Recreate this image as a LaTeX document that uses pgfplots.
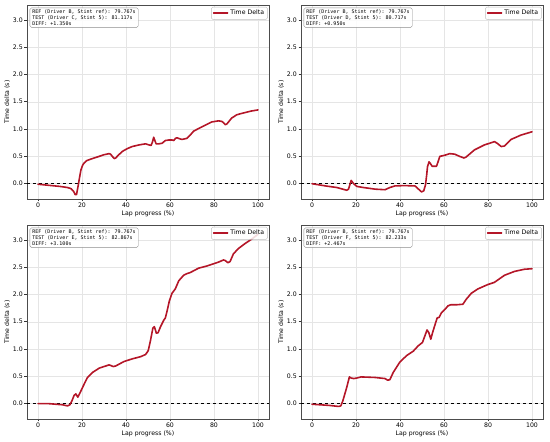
\documentclass[border=0pt]{standalone}
\usepackage{fontspec}
\setmainfont{DejaVu Sans}
\newfontfamily\monofont{DejaVu Sans Mono}
\usepackage{pgfplots}
\pgfplotsset{compat=1.18}
\definecolor{deltared}{RGB}{180,22,40}
\pgfplotsset{
  panel/.style={
    scale only axis, width=242pt, height=194pt,
    anchor=south west,
    xmin=-5, xmax=105, ymin=-0.28, ymax=3.27,
    xtick={0,20,40,60,80,100}, ytick={0,0.5,1,1.5,2,2.5,3},
    /pgf/number format/assume math mode=true,
    yticklabel style={/pgf/number format/fixed, /pgf/number format/fixed zerofill, /pgf/number format/precision=1},
    grid=major, grid style={black!10, line width=0.4pt},
    tick align=outside, tick pos=left, major tick length=2.5pt,
    axis line style={black!70, line width=0.6pt},
    tick style={black!80, line width=0.5pt},
    ticklabel style={font=\fontsize{6.2}{7}\selectfont, inner sep=1.5pt},
    label style={font=\fontsize{6.2}{7}\selectfont},
    xlabel={Lap progress (\%)}, ylabel={Time delta (s)},
    xlabel style={yshift=2pt},
    ylabel style={yshift=-2pt},
    legend style={at={(0.995,0.99)}, anchor=north east, font=\fontsize{6.2}{7}\selectfont,
      draw=black!25, rounded corners=1.5pt, fill=white, fill opacity=0.85, text opacity=1,
      inner xsep=1.5pt, inner ysep=1pt},
    legend cell align=left,
    legend image code/.code={\draw[#1] (0pt,0pt) -- (14pt,0pt);},
  },
  curve/.style={deltared, line width=1.6pt, line join=round, line cap=round},
  zero/.style={black, dashed, line width=0.6pt, forget plot},
}
\newcommand{\infobox}[2]{%
  \node[anchor=north west, draw=black!45, rounded corners=1.5pt, fill=white, fill opacity=0.85, text opacity=1,
    font=\monofont\fontsize{5}{5.8}\selectfont, align=left, inner xsep=2.5pt, inner ysep=2pt]
    at (rel axis cs:0,1) [xshift=2.7pt, yshift=-2.7pt]
    {REF (Driver B, Stint ref): 79.767s\\#1\\#2};}
\begin{document}
\begin{tikzpicture}
\useasboundingbox (0,0) rectangle (550pt,442pt);
% Top-left
\begin{axis}[panel, at={(27pt,243pt)}]
\addplot[zero] coordinates {(-5,0) (105,0)};
\addplot[curve] coordinates {
(0,-0.01) (5,-0.03) (10,-0.05) (13.4,-0.07) (15,-0.09) (16.2,-0.14) (16.9,-0.2) (17.5,-0.2)
(18.2,-0.05) (18.7,0.07) (19.5,0.25) (20.3,0.34) (21,0.38) (22,0.42) (24,0.45) (27.8,0.5)
(30,0.53) (32.3,0.55) (33,0.54) (34,0.49) (34.7,0.46) (35.3,0.47) (36.5,0.52) (38.3,0.59)
(40.5,0.64) (42.8,0.68) (46,0.71) (48.9,0.73) (50.4,0.71) (51.4,0.70) (52,0.76) (52.6,0.85)
(53.2,0.78) (53.7,0.73) (55,0.73) (56.4,0.74) (57.9,0.79) (59.5,0.8) (60.9,0.8) (61.7,0.79)
(62.5,0.83) (63.2,0.84) (64.5,0.82) (65.5,0.81) (67.7,0.83) (69.2,0.89) (70.7,0.96) (73,1.01)
(76,1.07) (79,1.13) (82,1.15) (83.6,1.14) (84.5,1.11) (85.1,1.08) (85.8,1.09) (86.8,1.14)
(88,1.2) (90.3,1.26) (92,1.28) (94,1.3) (97,1.33) (100,1.35)
};
\addlegendentry{Time Delta}
\infobox{TEST (Driver C, Stint 5): 81.117s}{DIFF: +1.350s}
\end{axis}
% Top-right
\begin{axis}[panel, at={(301pt,243pt)}]
\addplot[zero] coordinates {(-5,0) (105,0)};
\addplot[curve] coordinates {
(0,0) (6,-0.04) (11.3,-0.07) (14,-0.1) (15.8,-0.12) (16.6,-0.1) (17.2,-0.02) (17.8,0.06)
(18.9,0.0) (20.4,-0.05) (23.4,-0.07) (28.7,-0.1) (33.2,-0.11) (35.4,-0.07) (37.7,-0.04)
(42,-0.035) (46.8,-0.04) (48,-0.085) (49.8,-0.15) (50.8,-0.13) (51.6,-0.02) (52.1,0.15)
(52.5,0.31) (53.2,0.4) (53.8,0.37) (54.6,0.32) (56.6,0.32) (57.3,0.4) (58.1,0.5) (60.3,0.52)
(62.6,0.55) (64.9,0.54) (67.1,0.5) (69.1,0.47) (70.1,0.49) (73.9,0.62) (78.4,0.71) (83,0.77)
(84.5,0.73) (86,0.68) (87.5,0.69) (90.5,0.81) (95,0.89) (100,0.95)
};
\addlegendentry{Time Delta}
\infobox{TEST (Driver D, Stint 5): 80.717s}{DIFF: +0.950s}
\end{axis}
% Bottom-left
\begin{axis}[panel, at={(27pt,23pt)}]
\addplot[zero] coordinates {(-5,0) (105,0)};
\addplot[curve] coordinates {
(0,0) (5.1,0) (11.2,-0.02) (13.4,-0.04) (14.5,-0.02) (15.4,0.05) (16.4,0.15) (17.2,0.18)
(18.1,0.12) (19,0.19) (21,0.36) (22.5,0.48) (24.7,0.57) (27.8,0.65) (30.8,0.69) (32.3,0.71)
(33,0.70) (34.2,0.68) (35.3,0.69) (39,0.77) (42.8,0.82) (46.6,0.86) (48.9,0.9) (50.1,0.97)
(51.1,1.15) (52.2,1.38) (52.9,1.41) (53.8,1.29) (54.6,1.30) (55.7,1.41) (57.2,1.53) (57.9,1.57)
(58.7,1.7) (59.7,1.88) (60.9,2.02) (62.4,2.1) (64,2.25) (66.2,2.35) (67.7,2.38) (69.2,2.4)
(73,2.48) (76.8,2.52) (82,2.59) (84.3,2.63) (85.1,2.62) (86.3,2.58) (87.3,2.6) (88.8,2.74)
(91.1,2.84) (94.1,2.93) (97.1,3.01) (100,3.1)
};
\addlegendentry{Time Delta}
\infobox{TEST (Driver E, Stint 5): 82.867s}{DIFF: +3.100s}
\end{axis}
% Bottom-right
\begin{axis}[panel, at={(301pt,23pt)}]
\addplot[zero] coordinates {(-5,0) (105,0)};
\addplot[curve] coordinates {
(0,-0.01) (7.5,-0.03) (12.1,-0.05) (13.1,-0.04) (14,0.05) (15.8,0.3) (17,0.49) (17.8,0.47)
(18.9,0.46) (20.4,0.47) (22.3,0.49) (28.7,0.48) (33.2,0.46) (34.4,0.43) (35.4,0.44)
(36.9,0.57) (39.9,0.76) (43,0.88) (46,0.96) (48.3,1.06) (50.2,1.12) (51.3,1.24) (52.3,1.35)
(53.1,1.30) (54,1.18) (54.8,1.3) (55.8,1.43) (56.9,1.57) (57.8,1.58) (58.8,1.66) (60.3,1.72)
(61.8,1.79) (63,1.81) (65.6,1.81) (68.6,1.82) (70.1,1.91) (72.4,2.02) (75.4,2.1) (79.9,2.18)
(82.9,2.22) (87.5,2.35) (92,2.42) (96.5,2.46) (100,2.47)
};
\addlegendentry{Time Delta}
\infobox{TEST (Driver F, Stint 5): 82.233s}{DIFF: +2.467s}
\end{axis}
\end{tikzpicture}
\end{document}
